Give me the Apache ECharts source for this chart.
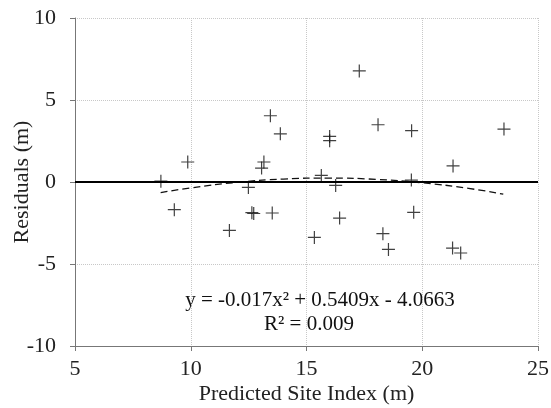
<!DOCTYPE html>
<html><head><meta charset="utf-8">
<script src="https://cdn.jsdelivr.net/npm/echarts@6/dist/echarts.min.js"></script>
<style>html,body{margin:0;padding:0;background:#fff}#c{width:551px;height:408px}</style>
</head><body><div id="c"></div>
<script>
var predicted = [8.71, 9.29, 9.87, 11.67, 12.49, 12.64, 12.72, 13.06, 13.16, 13.44, 13.52, 13.87, 15.34, 15.64, 16.0, 16.0, 16.26, 16.43, 17.28, 18.09, 18.3, 18.54, 19.53, 19.54, 19.63, 21.31, 21.33, 21.66, 23.53];
var residuals = [0.05, -1.69, 1.22, -2.95, -0.33, -1.87, -1.92, 0.85, 1.22, 4.04, -1.89, 2.94, -3.38, 0.4, 2.78, 2.52, -0.21, -2.2, 6.77, 3.49, -3.15, -4.11, 0.12, 3.13, -1.85, -4.03, 0.98, -4.33, 3.23];
var trendX = [8.7, 10, 12, 14, 16, 18, 20, 22, 23.5];
var trendY = [-0.65, -0.36, -0.02, 0.18, 0.24, 0.16, -0.05, -0.39, -0.74];
var xTicks = [5, 10, 15, 20, 25];
var yTicks = [-10, -5, 0, 5, 10];
var eqLine1 = 'y = -0.017x\u00B2 + 0.5409x - 4.0663';
var eqLine2 = 'R\u00B2 = 0.009';

var font = 'Liberation Serif';
var chart = echarts.init(document.getElementById('c'));
chart.setOption({
  animation: false,
  backgroundColor: '#fff',
  grid: {left: 75, right: 13, top: 18, bottom: 62, containLabel: false, outerBoundsMode: 'none'},
  xAxis: {
    type: 'value', min: xTicks[0], max: xTicks[xTicks.length-1], interval: 5,
    name: 'Predicted Site Index (m)', nameLocation: 'middle', nameGap: 37, nameMoveOverlap: false,
    nameTextStyle: {fontFamily: font, fontSize: 22, color: '#222'},
    axisLine: {onZero: false, lineStyle: {color: '#777', width: 1}},
    axisTick: {show: true, inside: false, length: 5, lineStyle: {color: '#777'}},
    axisLabel: {fontFamily: font, fontSize: 22, color: '#222', margin: 12},
    splitLine: {show: true, lineStyle: {color: '#c8c8c8', type: 'dotted', width: 1}}
  },
  yAxis: {
    type: 'value', min: yTicks[0], max: yTicks[yTicks.length-1], interval: 5,
    name: 'Residuals (m)', nameLocation: 'middle', nameGap: 42, nameMoveOverlap: false,
    nameTextStyle: {fontFamily: font, fontSize: 22, color: '#222'},
    axisLine: {show: true, lineStyle: {color: '#777', width: 1}},
    axisTick: {show: true, length: 5, lineStyle: {color: '#777'}},
    axisLabel: {fontFamily: font, fontSize: 22, color: '#222', margin: 19},
    splitLine: {show: true, lineStyle: {color: '#c8c8c8', type: 'dotted', width: 1}}
  },
  series: [
    {
      type: 'line', data: trendX.map(function(x, i){ return [x, trendY[i]]; }),
      smooth: true, symbol: 'none',
      lineStyle: {color: '#111', width: 1.3, type: [7, 4]},
      z: 3
    },
    {
      type: 'scatter',
      data: predicted.map(function(x, i){ return [x, residuals[i]]; }),
      symbol: 'path://M0,-6 L0,6 M-6,0 L6,0',
      symbolSize: 13,
      itemStyle: {color: 'transparent', borderColor: '#111', borderWidth: 1.2},
      z: 4,
      markLine: {
        silent: true, symbol: 'none', label: {show: false},
        lineStyle: {color: '#000', width: 2, type: 'solid'},
        data: [{yAxis: 0}]
      }
    }
  ],
  graphic: [
    {type: 'text', style: {text: eqLine1, x: 320, y: 300, align: 'center', verticalAlign: 'middle', font: '21px "Liberation Serif"', fill: '#111'}},
    {type: 'text', style: {text: eqLine2, x: 309, y: 324, align: 'center', verticalAlign: 'middle', font: '21px "Liberation Serif"', fill: '#111'}}
  ]
});
</script></body></html>
